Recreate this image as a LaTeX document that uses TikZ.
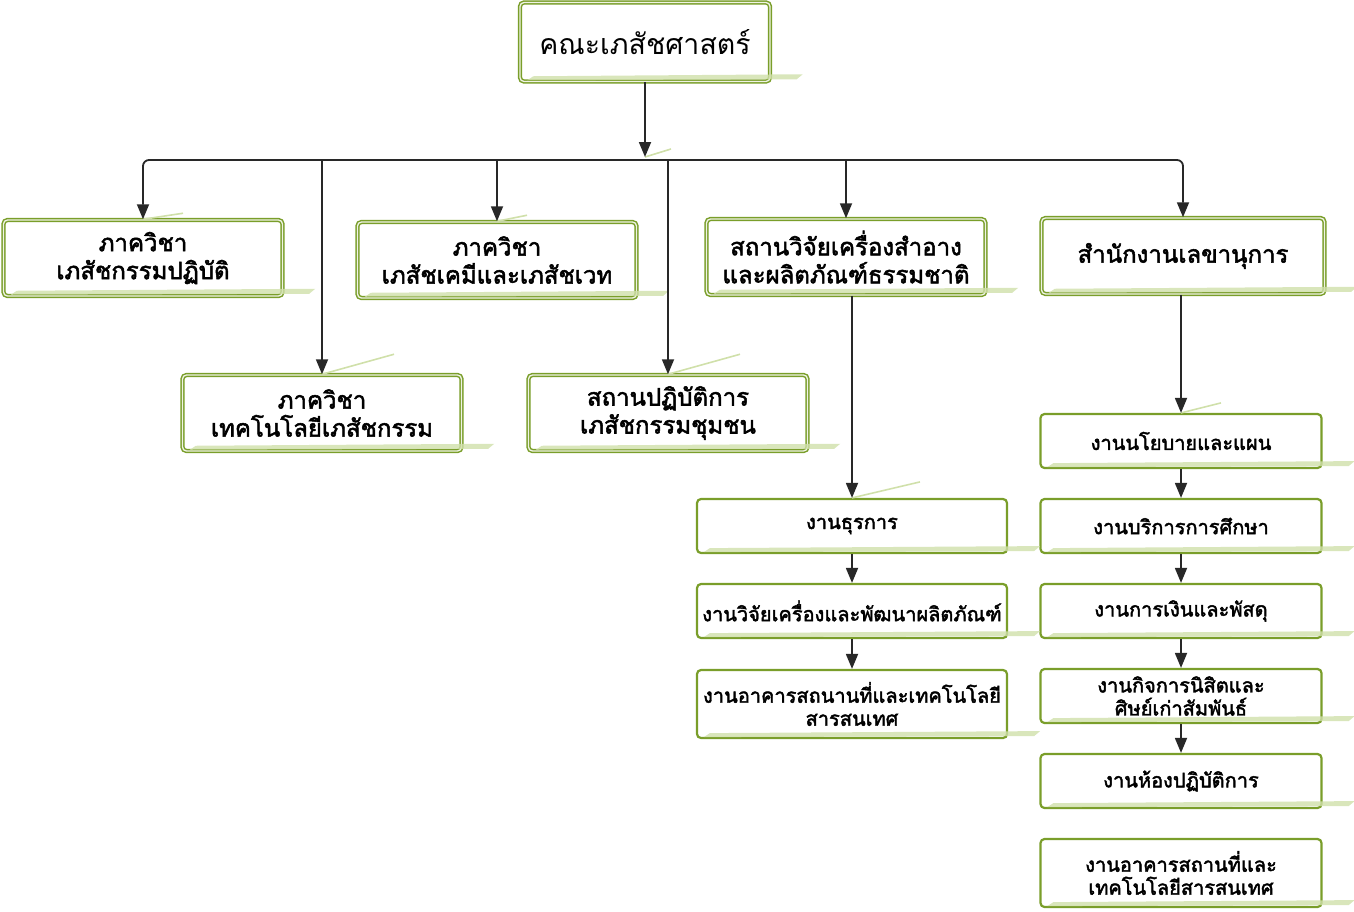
\documentclass[tikz,border=0pt]{standalone}
\usepackage{fontspec}
\newfontfamily\thaifont[Script=Thai,AutoFakeBold=2.2]{Loma}
\usetikzlibrary{arrows.meta,calc}
\definecolor{leaf}{RGB}{122,158,42}
\definecolor{pale}{RGB}{208,224,170}
\definecolor{ink}{RGB}{40,40,40}

\begin{document}
\begin{tikzpicture}[x=1pt,y=-1pt,
 unit/.style={draw=leaf,line width=1.5pt,double=leaf!12,double distance=1.3pt,rounded corners=4pt,align=center,inner sep=0pt,
  minimum width=279pt,minimum height=76pt,font=\thaifont\bfseries\fontsize{24}{28}\selectfont},
 task/.style={draw=leaf,line width=2.2pt,rounded corners=4pt,fill=white,align=center,inner sep=0pt,
  minimum height=54pt,font=\thaifont\bfseries\fontsize{20}{23}\selectfont},
 arr/.style={ink,line width=1.8pt,-{Triangle[length=15pt,width=12pt]}},
 glint/.style={pale,line width=1.6pt}]
\useasboundingbox (0,0) rectangle (1354,911);
\node[unit,minimum width=250pt,minimum height=79pt,font=\thaifont\fontsize{28.5}{32}\selectfont](F)at(645,42){คณะเภสัชศาสตร์};
\node[unit](A)at(143,258){ภาควิชา\\เภสัชกรรมปฏิบัติ};
\node[unit](B)at(497,260){ภาควิชา\\เภสัชเคมีและเภสัชเวท};
\node[unit](C)at(846,257){สถานวิจัยเครื่องสำอาง\\และผลิตภัณฑ์ธรรมชาติ};
\node[unit,minimum width=283pt](D)at(1183,256){สำนักงานเลขานุการ};
\node[unit](E)at(322,413){ภาควิชา\\เทคโนโลยีเภสัชกรรม};
\node[unit](G)at(668,413){สถานปฏิบัติการ\\เภสัชกรรมชุมชน};
\node[task,minimum width=310pt](H1)at(852,526){งานธุรการ};
\node[task,minimum width=310pt](H2)at(852,611){งานวิจัยเครื่องและพัฒนาผลิตภัณฑ์};
\node[task,minimum width=310pt,minimum height=68pt](H3)at(852,704){งานอาคารสถนานที่และเทคโนโลยี\\สารสนเทศ};
\node[task,minimum width=281pt](S1)at(1181,441){งานนโยบายและแผน};
\node[task,minimum width=281pt](S2)at(1181,526){งานบริการการศึกษา};
\node[task,minimum width=281pt](S3)at(1181,611){งานการเงินและพัสดุ};
\node[task,minimum width=281pt](S4)at(1181,696){งานกิจการนิสิตและ\\ศิษย์เก่าสัมพันธ์};
\node[task,minimum width=281pt](S5)at(1181,781){งานห้องปฏิบัติการ};
\node[task,minimum width=281pt,minimum height=68pt](S6)at(1181,873){งานอาคารสถานที่และ\\เทคโนโลยีสารสนเทศ};
% pale reflections under the boxes
\foreach \n in {F,A,B,C,D,E,G,H1,H2,H3,S1,S2,S3,S4,S5,S6}
 \fill[pale,opacity=.8]($(\n.south west)+(14pt,6pt)$)--($(\n.south east)+(32pt,8pt)$)--($(\n.south east)+(26pt,3pt)$)--($(\n.south west)+(8pt,2pt)$)--cycle;
\coordinate(K)at(645,160);
\draw[glint](K)++(0,-3)--++(26,-8);
\draw[glint](A.north)--++(40,-6)(B.north)--++(30,-6)(S1.north)--++(40,-10);
\draw[glint](E.north)--++(72,-20)(G.north)--++(72,-20)(H1.north)--++(68,-16);
% connectors
\draw[arr](F)--([yshift=3pt]K);
\draw[arr,rounded corners=6pt](K)-|(A);
\draw[arr,rounded corners=6pt](K)-|(D);
\draw[arr](K-|B)--(B);
\draw[arr](K-|C)--(C);
\draw[arr](K-|E)--(E);
\draw[arr](K-|G)--(G);
\draw[arr](C.south-|H1)--(H1);
\draw[arr](H1)--(H2);
\draw[arr](H2)--(H3);
\draw[arr](D.south-|S1)--(S1);
\draw[arr](S1)--(S2);
\draw[arr](S2)--(S3);
\draw[arr](S3)--(S4);
\draw[arr](S4)--(S5);
\end{tikzpicture}
\end{document}
